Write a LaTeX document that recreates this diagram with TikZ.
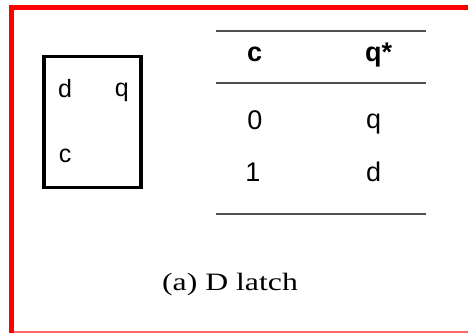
\documentclass[tikz,border=0pt]{standalone}
\usepackage{fontspec}
\setmainfont{Liberation Serif}
\setsansfont{Liberation Sans}
\usepackage{tikz}
\usetikzlibrary{positioning}
\usepackage{xcolor}
\definecolor{framered}{RGB}{255,0,0}
\definecolor{ruleg}{RGB}{80,80,80}
\tikzset{
  pin/.style={anchor=base, inner sep=0pt, font=\fontsize{25}{28}\selectfont\sffamily},
  cell/.style={anchor=base, inner sep=0pt, font=\fontsize{27}{30}\selectfont\sffamily},
  head/.style={cell, font=\fontsize{27}{30}\selectfont\sffamily\bfseries},
  rul/.style={draw=ruleg, line width=1.5pt},
}

\begin{document}
\begin{tikzpicture}[x=1pt, y=-1pt]
  \useasboundingbox (0,0) rectangle (468,333);

  % Red frame
  \fill[framered] (9,5) rectangle (468,10);
  \fill[framered] (9,5) rectangle (14,333);
  \draw[framered!60, line width=1.2pt] (14,332) -- (468,332);

  % Latch symbol
  \draw[line width=3.5pt] (44,56.5) rectangle (141,187.5);
  \node[pin] (pd) at (65,97) {d};
  \node[pin] (pq) at (121.7,96) {q};
  \node[pin] (pc) at (65,162.5) {c};

  % Characteristic table
  \coordinate (r1l) at (216,31);  \coordinate (r1r) at (426,31);
  \coordinate (r2l) at (216,83);  \coordinate (r2r) at (426,83);
  \coordinate (r3l) at (216,214); \coordinate (r3r) at (426,214);
  \draw[rul] (r1l) -- (r1r);
  \draw[rul] (r2l) -- (r2r);
  \draw[rul] (r3l) -- (r3r);

  \node[head] (hc) at (254.7,61.5) {c};
  \node[head] (hq) at (378.7,61.5) {q*};
  \node[cell] (c0) at (255,129) {0};
  \node[cell] (q0) at (373.7,128) {q};
  \node[cell] (c1) at (253,181.7) {1};
  \node[cell] (q1) at (373.7,181.7) {d};

  % Caption
  \node[anchor=base, inner sep=0pt, xscale=1.27,
        font=\fontsize{25}{28}\selectfont] (cap) at (230,290) {(a) D latch};
\end{tikzpicture}
\end{document}
